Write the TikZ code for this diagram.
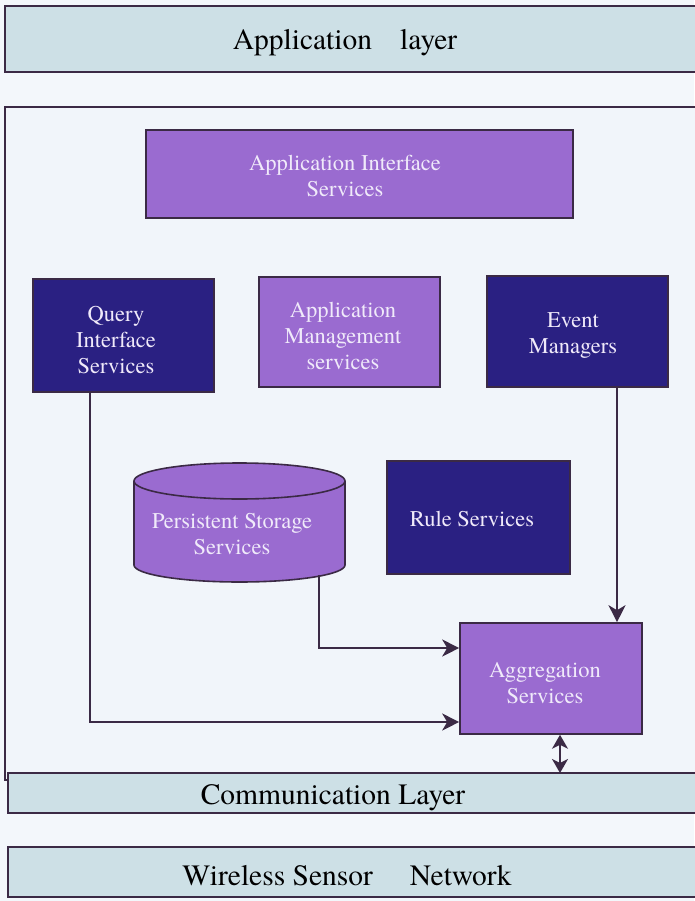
\documentclass[tikz,border=0pt]{standalone}
\usepackage{fontspec}
\setmainfont{texgyretermes-regular.otf}
\newfontfamily\timesfont{texgyretermes-regular.otf}
\usetikzlibrary{arrows.meta}
\definecolor{pagebg}{HTML}{F3F7FB}
\definecolor{layerfill}{HTML}{CDE0E6}
\definecolor{panelfill}{HTML}{F1F5FA}
\definecolor{lilac}{HTML}{9A6BD0}
\definecolor{navy}{HTML}{2A2082}
\definecolor{edge}{HTML}{3B2A45}
\definecolor{paletext}{HTML}{F0EAFA}
\tikzset{
  layerbar/.style={draw=edge, line width=1.6pt, fill=layerfill, inner sep=0pt},
  layertext/.style={font=\timesfont\fontsize{29.5}{32}\selectfont, text=black},
  svcbox/.style={draw=edge, line width=1.6pt, fill=lilac, inner sep=0pt},
  darkbox/.style={svcbox, fill=navy},
  svctext/.style={text=paletext, align=center, inner sep=0pt,
    font=\timesfont\fontsize{22.5}{26}\selectfont},
  link/.style={draw=edge, line width=1.8pt, -{Stealth[length=17pt,width=17pt,inset=5pt]}},
  duallink/.style={draw=edge, line width=1.8pt,
    {Stealth[length=14pt,width=16pt,inset=4pt]}-{Stealth[length=14pt,width=16pt,inset=4pt]}}
}
\begin{document}
\begin{tikzpicture}[x=1pt,y=-1pt]
\useasboundingbox (0,0) rectangle (694,901);
\fill[pagebg] (0,0) rectangle (694,901);

% application layer band
\draw[layerbar] (5,6) rectangle (700,72);
\node[layertext] (applayer) at (345,43) {Application\hspace{0.95em}layer};

% middleware panel
\draw[edge, line width=1.6pt, fill=panelfill] (5,107) rectangle (700,780);

% service blocks
\node[svcbox, minimum width=427pt, minimum height=88pt] (ais) at (359.5,174) {};
\node[svctext] (aistext) at (345,175.5) {Application Interface\\Services};

\node[darkbox, minimum width=181pt, minimum height=113pt] (qis) at (123.5,335.5) {};
\node[svctext] (qistext) at (116,340) {Query\\Interface\\Services};

\node[svcbox, minimum width=181pt, minimum height=110pt] (ams) at (349.5,332) {};
\node[svctext] (amstext) at (343,335.5) {Application\\Management\\services};

\node[darkbox, minimum width=181pt, minimum height=111pt] (evm) at (577.5,331.5) {};
\node[svctext] (evmtext) at (573,336) {Event\\Managers};

% storage drum
\fill[lilac] (134,481) -- (134,565)
  arc[start angle=180, end angle=0, x radius=105.5, y radius=17]
  -- (345,481)
  arc[start angle=0, end angle=-180, x radius=105.5, y radius=18] -- cycle;
\draw[edge, line width=1.6pt] (134,481) -- (134,565)
  arc[start angle=180, end angle=0, x radius=105.5, y radius=17]
  -- (345,481);
\draw[edge, line width=1.6pt] (239.5,481) ellipse[x radius=105.5, y radius=18];
\node[inner sep=0pt, minimum width=211pt, minimum height=119pt] (pss) at (239.5,522.5) {};
\node[svctext] (psstext) at (232,534.5) {Persistent Storage\\Services};
\coordinate (pssout) at (319,575);

\node[darkbox, minimum width=183pt, minimum height=113pt] (rules) at (478.5,517.5) {};
\node[svctext] (rulestext) at (472,519) {Rule Services};

\node[svcbox, minimum width=182pt, minimum height=111pt] (agg) at (551,678.5) {};
\node[svctext] (aggtext) at (545,683) {Aggregation\\Services};

% connectors
\draw[link] (evm.south -| 617,0) -- (agg.north -| 617,0);
\draw[link] (pssout) |- (agg.west |- 0,648);
\draw[link] (qis.south -| 90,0) |- (agg.west |- 0,722);

% communication layer band
\draw[layerbar] (8,773) rectangle (700,813);
\node[layertext] (comm) at (333,797.5) {Communication Layer};
\coordinate (commtop) at (560,773);
\draw[duallink] (agg.south -| commtop) -- (commtop);

% sensor network band
\draw[layerbar] (8,847) rectangle (700,897);
\node[layertext] (wsn) at (347,875.5) {Wireless Sensor\hspace{1.25em}Network};
\end{tikzpicture}
\end{document}
